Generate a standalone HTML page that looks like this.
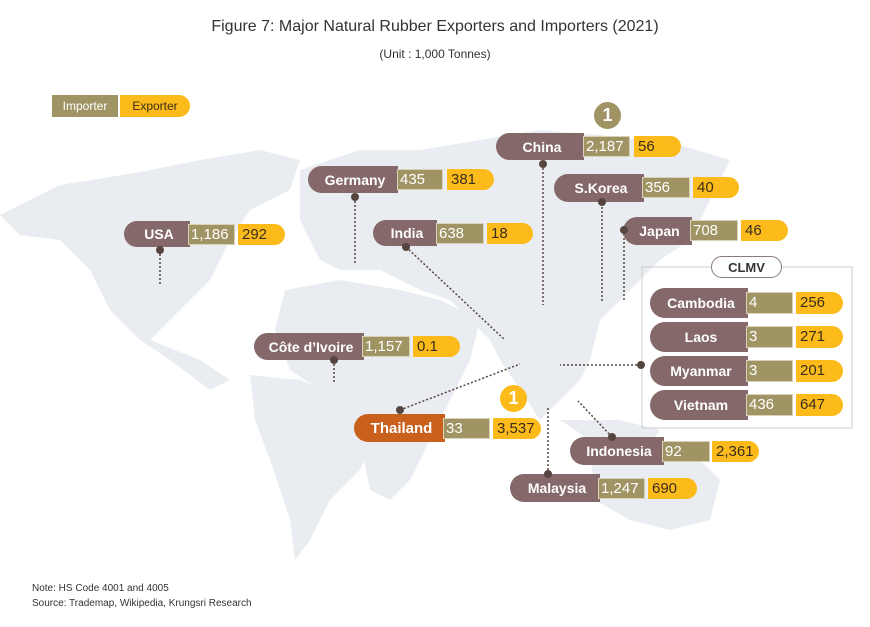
<!DOCTYPE html>
<html><head><meta charset="utf-8"><style>
body{margin:0;width:870px;height:627px;background:#fff;position:relative;overflow:hidden;font-family:"Liberation Sans",sans-serif}
.a{position:absolute}
.n{position:absolute;background:#85696a;color:#fff;font-weight:bold;font-size:14px;border-radius:15px 0 0 15px;display:flex;align-items:center;justify-content:center;box-sizing:border-box;padding-left:4px}
.i{position:absolute;background:#a09465;color:#fff;font-size:15px;border:1px solid #d8d2b8;box-sizing:border-box;padding-left:2px;line-height:19px}
.e{position:absolute;background:#fcba1b;color:#3a2e1a;font-size:15px;border-radius:0 12px 12px 0;padding-left:4px;box-sizing:border-box;line-height:21px}
.d{position:absolute;width:8px;height:8px;border-radius:50%;background:#56443f}
</style></head><body>
<svg class="a" style="left:0;top:0" width="870" height="627">
<g fill="#e9edf1">
<path d="M0 215 L60 185 L140 172 L200 160 L260 150 L300 160 L290 190 L250 210 L230 240 L210 280 L190 300 L170 320 L150 340 L200 360 L230 380 L210 390 L170 360 L140 340 L110 310 L90 270 L60 240 L20 235 Z"/>
<path d="M250 375 L300 380 L350 400 L380 425 L360 470 L330 500 L310 540 L295 560 L290 520 L270 460 L255 420 Z"/>
<path d="M300 170 L360 150 L420 150 L480 140 L540 130 L600 135 L680 145 L730 160 L710 200 L690 240 L660 260 L640 280 L620 300 L600 320 L590 360 L580 380 L560 400 L540 420 L520 390 L500 360 L490 340 L470 320 L450 300 L420 290 L400 280 L380 270 L340 270 L320 260 L300 220 Z"/>
<path d="M285 290 L340 280 L400 290 L440 300 L480 320 L470 360 L450 400 L430 440 L410 480 L390 500 L370 490 L360 440 L350 400 L320 390 L290 370 L275 330 Z"/>
<path d="M590 450 L640 440 L690 450 L720 480 L710 520 L670 530 L630 520 L595 500 Z"/>
<path d="M560 420 L620 420 L660 430 L650 445 L590 440 Z"/>
</g>
<g stroke="#56443f" stroke-width="1.5" stroke-dasharray="2,2" fill="none">
<line x1="160" y1="250" x2="160" y2="286"/>
<line x1="355" y1="197" x2="355" y2="265"/>
<line x1="406" y1="247" x2="505" y2="340"/>
<line x1="543" y1="164" x2="543" y2="305"/>
<line x1="602" y1="203" x2="602" y2="302"/>
<line x1="624" y1="230" x2="624" y2="302"/>
<line x1="641" y1="365" x2="560" y2="365"/>
<line x1="334" y1="360" x2="334" y2="383"/>
<line x1="400" y1="410" x2="520" y2="364"/>
<line x1="612" y1="437" x2="578" y2="401"/>
<line x1="548" y1="470" x2="548" y2="408"/>
</g>
<rect x="642" y="267" width="210" height="161" fill="none" stroke="#ccc"/>
</svg>
<div class="a" style="left:0;top:18px;width:870px;text-align:center;font-size:16px;color:#333">Figure 7: Major Natural Rubber Exporters and Importers (2021)</div>
<div class="a" style="left:0;top:47px;width:870px;text-align:center;font-size:12px;color:#333">(Unit : 1,000 Tonnes)</div>
<div class="a" style="left:52px;top:95px;width:66px;height:22px;background:#a09465;color:#fff;font-size:12px;line-height:22px;text-align:center">Importer</div>
<div class="a" style="left:120px;top:95px;width:70px;height:22px;background:#fcba1b;color:#3a2e1a;font-size:12px;line-height:22px;text-align:center;border-radius:0 11px 11px 0">Exporter</div>
<div class="a" style="left:594px;top:102px;width:27px;height:27px;border-radius:50%;background:#a09465;color:#fff;font-weight:bold;font-size:18px;text-align:center;line-height:27px">1</div>
<div class="a" style="left:500px;top:385px;width:27px;height:27px;border-radius:50%;background:#fcba1b;color:#fff;font-weight:bold;font-size:18px;text-align:center;line-height:27px">1</div>
<div class="a" style="left:711px;top:256px;width:71px;height:22px;border:1px solid #8a7a78;border-radius:12px;background:#fff;text-align:center;font-weight:bold;font-size:13px;line-height:22px;color:#333;box-sizing:border-box">CLMV</div>

<div class="n" style="left:124px;top:221px;width:66px;height:26px">USA</div><div class="i" style="left:188px;top:224px;width:47px;height:21px">1,186</div><div class="e" style="left:238px;top:224px;width:47px;height:21px">292</div>
<div class="n" style="left:308px;top:166px;width:90px;height:27px">Germany</div><div class="i" style="left:397px;top:169px;width:46px;height:21px">435</div><div class="e" style="left:447px;top:169px;width:47px;height:21px">381</div>
<div class="n" style="left:373px;top:220px;width:64px;height:26px">India</div><div class="i" style="left:436px;top:223px;width:48px;height:21px">638</div><div class="e" style="left:487px;top:223px;width:46px;height:21px">18</div>
<div class="n" style="left:496px;top:133px;width:88px;height:27px">China</div><div class="i" style="left:583px;top:136px;width:47px;height:21px">2,187</div><div class="e" style="left:634px;top:136px;width:47px;height:21px">56</div>
<div class="n" style="left:554px;top:174px;width:90px;height:28px">S.Korea</div><div class="i" style="left:642px;top:177px;width:48px;height:21px">356</div><div class="e" style="left:693px;top:177px;width:46px;height:21px">40</div>
<div class="n" style="left:623px;top:217px;width:69px;height:28px">Japan</div><div class="i" style="left:690px;top:220px;width:48px;height:21px">708</div><div class="e" style="left:741px;top:220px;width:47px;height:21px">46</div>
<div class="n" style="left:650px;top:288px;width:98px;height:30px">Cambodia</div><div class="i" style="left:746px;top:292px;width:47px;height:22px">4</div><div class="e" style="left:796px;top:292px;width:47px;height:22px">256</div>
<div class="n" style="left:650px;top:322px;width:98px;height:30px">Laos</div><div class="i" style="left:746px;top:326px;width:47px;height:22px">3</div><div class="e" style="left:796px;top:326px;width:47px;height:22px">271</div>
<div class="n" style="left:650px;top:356px;width:98px;height:30px">Myanmar</div><div class="i" style="left:746px;top:360px;width:47px;height:22px">3</div><div class="e" style="left:796px;top:360px;width:47px;height:22px">201</div>
<div class="n" style="left:650px;top:390px;width:98px;height:30px">Vietnam</div><div class="i" style="left:746px;top:394px;width:47px;height:22px">436</div><div class="e" style="left:796px;top:394px;width:47px;height:22px">647</div>
<div class="n" style="left:254px;top:333px;width:110px;height:27px">Côte d’Ivoire</div><div class="i" style="left:362px;top:336px;width:48px;height:21px">1,157</div><div class="e" style="left:413px;top:336px;width:47px;height:21px">0.1</div>
<div class="n" style="left:354px;top:414px;width:91px;height:28px;background:#c9601c;font-size:15px">Thailand</div><div class="i" style="left:443px;top:418px;width:47px;height:21px">33</div><div class="e" style="left:493px;top:418px;width:48px;height:21px">3,537</div>
<div class="n" style="left:570px;top:437px;width:94px;height:28px">Indonesia</div><div class="i" style="left:662px;top:441px;width:48px;height:21px">92</div><div class="e" style="left:712px;top:441px;width:47px;height:21px">2,361</div>
<div class="n" style="left:510px;top:474px;width:90px;height:28px">Malaysia</div><div class="i" style="left:598px;top:478px;width:47px;height:21px">1,247</div><div class="e" style="left:648px;top:478px;width:49px;height:21px">690</div>

<div class="d" style="left:156px;top:246px"></div>
<div class="d" style="left:351px;top:193px"></div>
<div class="d" style="left:402px;top:243px"></div>
<div class="d" style="left:539px;top:160px"></div>
<div class="d" style="left:598px;top:198px"></div>
<div class="d" style="left:620px;top:226px"></div>
<div class="d" style="left:637px;top:361px"></div>
<div class="d" style="left:330px;top:356px"></div>
<div class="d" style="left:396px;top:406px"></div>
<div class="d" style="left:608px;top:433px"></div>
<div class="d" style="left:544px;top:470px"></div>

<div class="a" style="left:32px;top:583px;font-size:10px;color:#333">Note: HS Code 4001 and 4005</div>
<div class="a" style="left:32px;top:598px;font-size:10px;color:#333">Source: Trademap, Wikipedia, Krungsri Research</div>
</body></html>
